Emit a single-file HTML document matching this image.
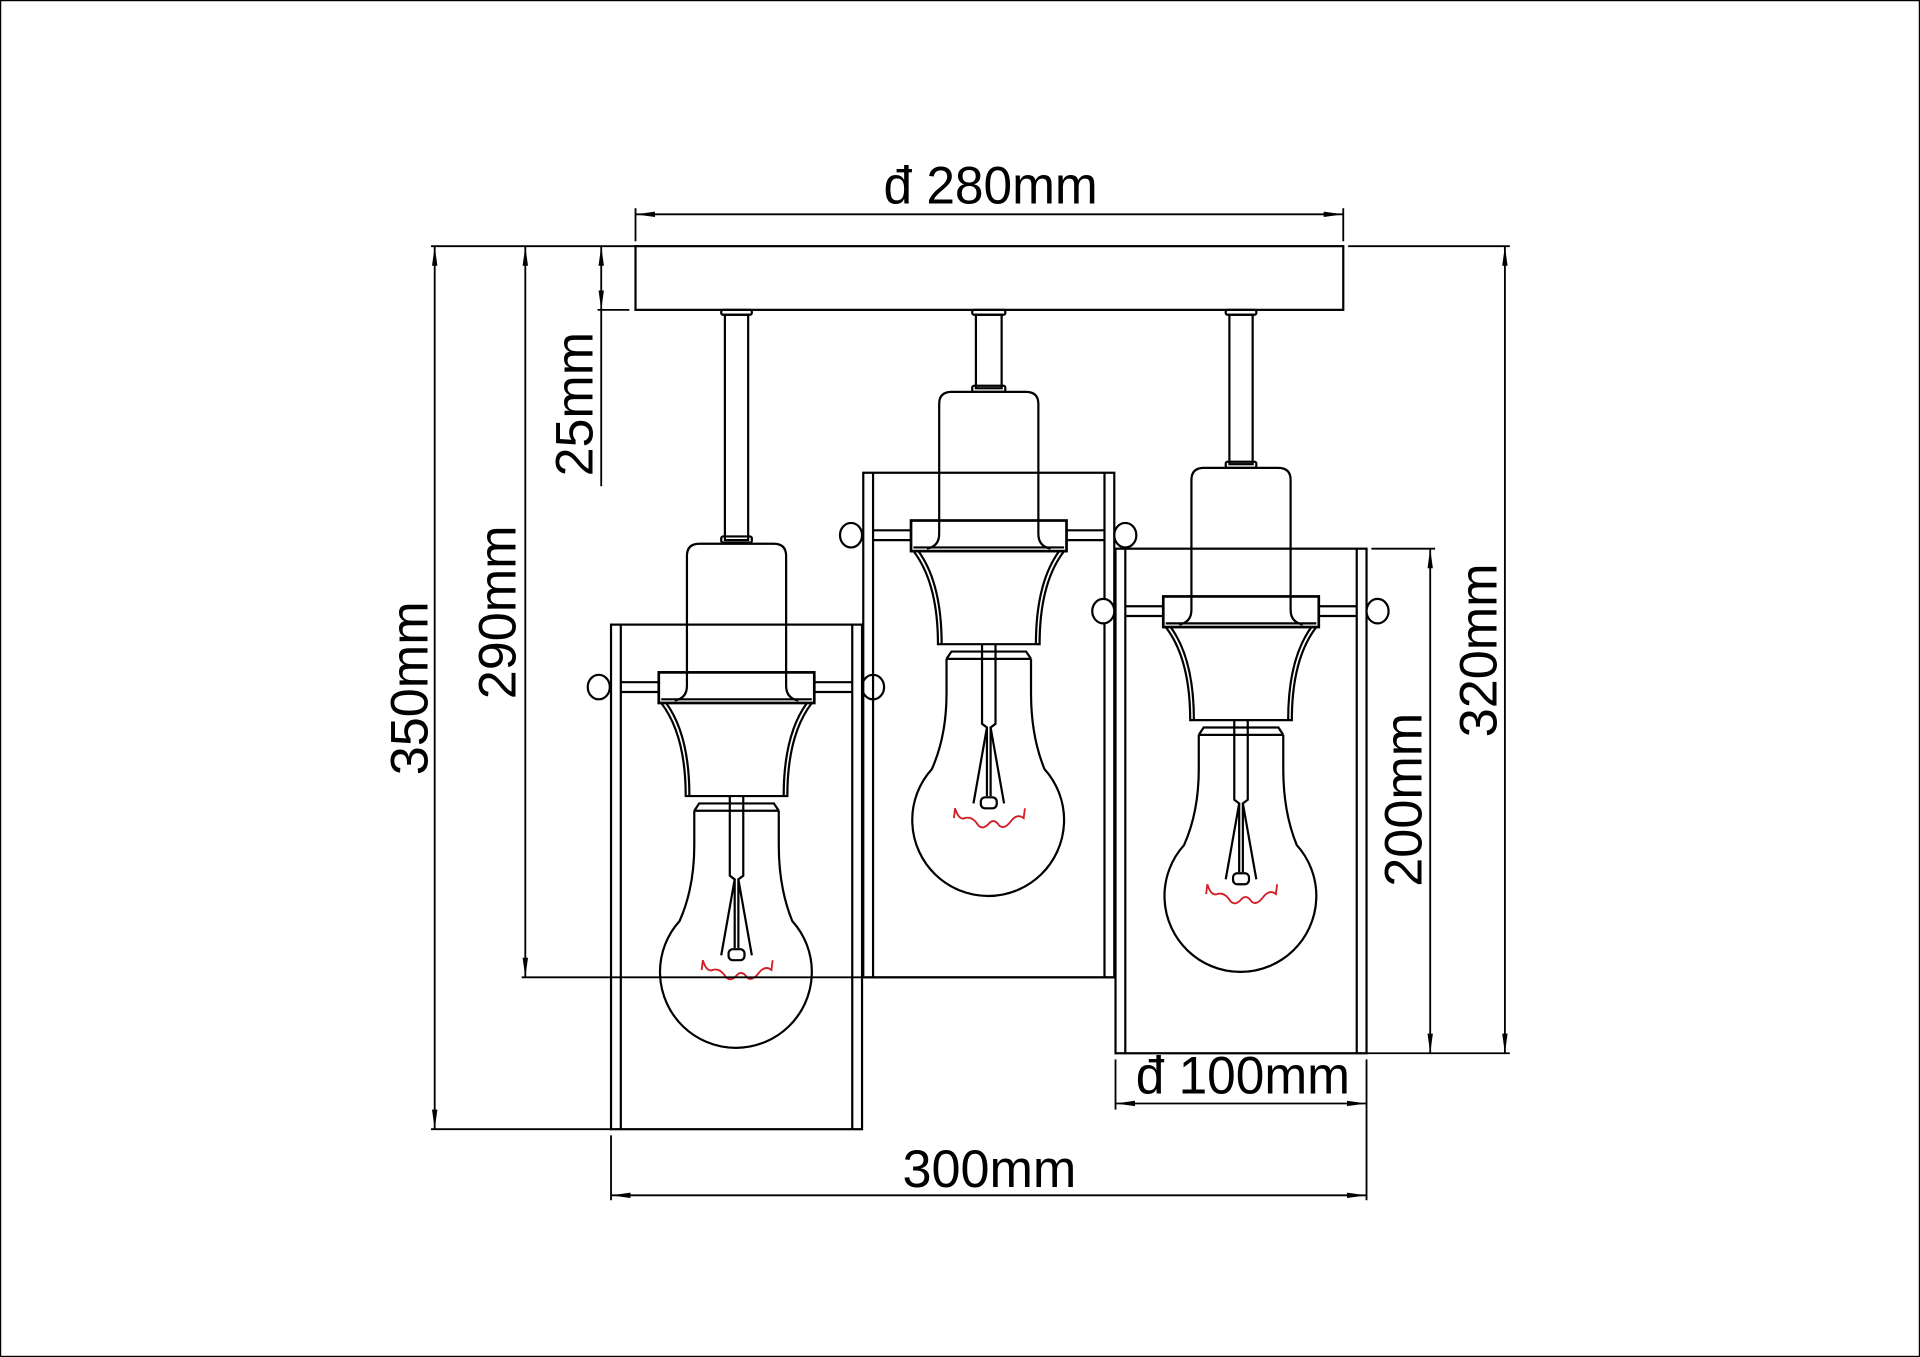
<!DOCTYPE html>
<html><head><meta charset="utf-8"><style>html,body{margin:0;padding:0;background:#fff}svg{display:block}</style></head><body>
<svg width="1920" height="1357" viewBox="0 0 1568 1108" preserveAspectRatio="none" xmlns="http://www.w3.org/2000/svg">
<defs>
<marker id="a" viewBox="0 0 16 6" refX="16" refY="3" markerWidth="16" markerHeight="6" markerUnits="userSpaceOnUse" orient="auto-start-reverse"><path d="M0,0.8 L16,3 L0,5.2 Z" fill="#000"/></marker>
<g id="p" fill="none" stroke="#000" stroke-width="1.8">
<rect x="499" y="510" width="205" height="412"/>
<line x1="507" y1="510" x2="507" y2="922"/>
<line x1="696" y1="510" x2="696" y2="922"/>
<line x1="507" y1="557" x2="538" y2="557"/><line x1="507" y1="565" x2="538" y2="565"/>
<line x1="665" y1="557" x2="696" y2="557"/><line x1="665" y1="565" x2="696" y2="565"/>
<ellipse cx="489" cy="561" rx="9" ry="10" fill="#fff"/>
<ellipse cx="713" cy="561" rx="9" ry="10" fill="#fff"/>
<path d="M551,572 Q561,570 561,560 L561,454 Q561,444 571,444 L632,444 Q642,444 642,454 L642,560 Q642,570 652,572"/>
<rect x="538" y="549" width="127" height="25" stroke-width="2.2"/>
<line x1="540" y1="571" x2="663" y2="571"/>
<path d="M540,574 Q560,600 560,650 L643,650 Q643,600 663,574"/>
<path d="M544,574 Q563,600 563,650 M640,650 Q640,600 659,574"/>
<path d="M567,662 L571,656 L632,656 L636,662 M567,662 L636,662"/>
<path d="M567,662 L567,690 Q567,725 555,752 A62,62 0 1,0 647,752 Q636,725 636,690 L636,662"/>
<path d="M596,650 L596,715 L600,718 L589,780 M607,650 L607,715 L603,718 L614,780"/>
<path d="M600,718 L600,774 M603,718 L603,774"/>
<rect x="595" y="775" width="13" height="9" rx="3.5"/>
<path d="M573,792 L574,784 Q577,794 582,792 Q588,790 593,798 Q597,802 602,796 Q606,792 610,798 Q614,802 620,794 Q625,788 630,792 L631,784" stroke="#d21f26" stroke-width="1.5"/>
</g>
</defs>
<rect x="0.5" y="0.5" width="1567" height="1107" fill="none" stroke="#000" stroke-width="1"/>
<g fill="none" stroke="#000" stroke-width="1.8">
<rect x="519" y="201" width="578" height="52"/>
<rect x="592" y="257" width="19" height="184"/><rect x="589" y="253" width="25" height="4" rx="1.5"/><rect x="589" y="438" width="25" height="5" rx="1.5"/>
<rect x="797" y="257" width="21" height="60"/><rect x="794" y="253" width="27" height="4" rx="1.5"/><rect x="794" y="315" width="27" height="5" rx="1.5"/>
<rect x="1004" y="257" width="19" height="122"/><rect x="1001" y="253" width="25" height="4" rx="1.5"/><rect x="1001" y="377" width="25" height="5" rx="1.5"/>
</g>
<use href="#p"/>
<use href="#p" transform="translate(206,-124)"/>
<use href="#p" transform="translate(412,-62)"/>
<g stroke="#000" stroke-width="1.5" fill="none">
<line x1="519" y1="175" x2="1097" y2="175" marker-start="url(#a)" marker-end="url(#a)"/>
<line x1="519" y1="170" x2="519" y2="197"/><line x1="1097" y1="170" x2="1097" y2="197"/>
<line x1="355" y1="201" x2="355" y2="922" marker-start="url(#a)" marker-end="url(#a)"/>
<line x1="352" y1="201" x2="519" y2="201"/><line x1="352" y1="922" x2="499" y2="922"/>
<line x1="429" y1="201" x2="429" y2="798" marker-start="url(#a)" marker-end="url(#a)"/>
<line x1="426" y1="798" x2="911" y2="798"/>
<line x1="491" y1="201" x2="491" y2="253" marker-start="url(#a)" marker-end="url(#a)"/>
<line x1="491" y1="253" x2="491" y2="397"/>
<line x1="488" y1="253" x2="514" y2="253"/>
<line x1="1229" y1="201" x2="1229" y2="860" marker-start="url(#a)" marker-end="url(#a)"/>
<line x1="1101" y1="201" x2="1233" y2="201"/><line x1="1116" y1="860" x2="1233" y2="860"/>
<line x1="1168" y1="448" x2="1168" y2="860" marker-start="url(#a)" marker-end="url(#a)"/>
<line x1="1120" y1="448" x2="1172" y2="448"/>
<line x1="911" y1="901" x2="1116" y2="901" marker-start="url(#a)" marker-end="url(#a)"/>
<line x1="911" y1="865" x2="911" y2="906"/><line x1="1116" y1="865" x2="1116" y2="906"/>
<line x1="499" y1="976" x2="1116" y2="976" marker-start="url(#a)" marker-end="url(#a)"/>
<line x1="499" y1="927" x2="499" y2="980"/><line x1="1116" y1="906" x2="1116" y2="980"/>
</g>
<g font-family="Liberation Sans, DejaVu Sans, sans-serif" font-size="43" fill="#000" text-anchor="middle">
<text x="809" y="166" textLength="175" lengthAdjust="spacingAndGlyphs">đ 280mm</text>
<text x="1015" y="893" textLength="175" lengthAdjust="spacingAndGlyphs">đ 100mm</text>
<text x="808" y="969" textLength="142" lengthAdjust="spacingAndGlyphs">300mm</text>
<text transform="translate(349,562) rotate(-90)" textLength="142" lengthAdjust="spacingAndGlyphs">350mm</text>
<text transform="translate(421,500) rotate(-90)" textLength="142" lengthAdjust="spacingAndGlyphs">290mm</text>
<text transform="translate(484,330) rotate(-90)" textLength="118" lengthAdjust="spacingAndGlyphs">25mm</text>
<text transform="translate(1222,531) rotate(-90)" textLength="142" lengthAdjust="spacingAndGlyphs">320mm</text>
<text transform="translate(1161,653) rotate(-90)" textLength="142" lengthAdjust="spacingAndGlyphs">200mm</text>
</g>
</svg>
</body></html>
